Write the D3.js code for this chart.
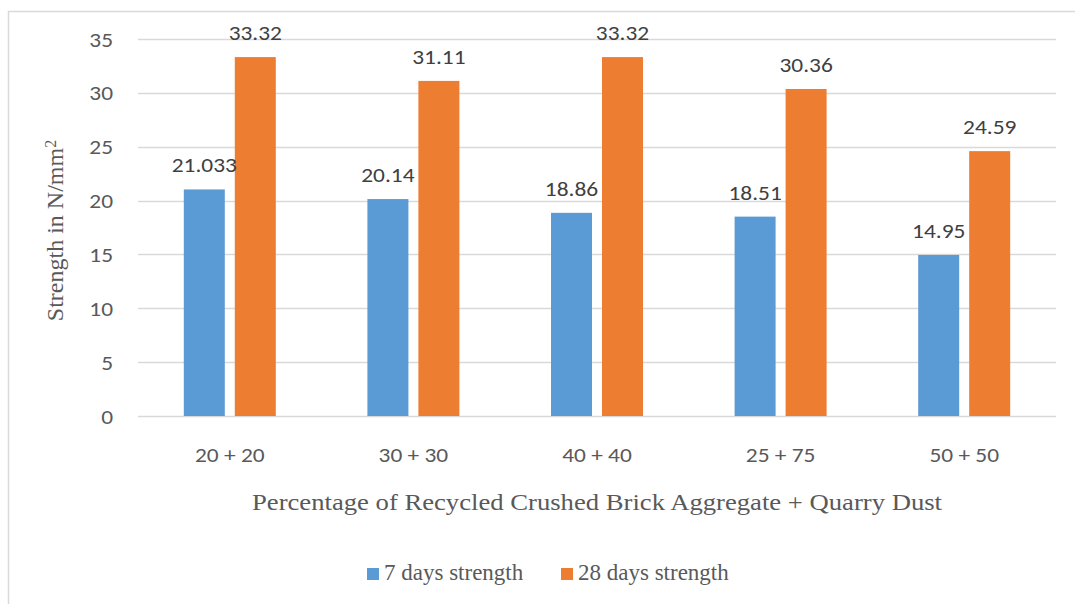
<!DOCTYPE html>
<html>
<head>
<meta charset="utf-8">
<script src="https://cdn.jsdelivr.net/npm/d3@7"></script>
<style>
  html, body { margin: 0; padding: 0; background: #fff; }
  svg { display: block; }
</style>
</head>
<body>
<svg id="chart" width="1075" height="604"></svg>
<script>
// Compressive strength of mixes by replacement percentage
const categories = ["20 + 20", "30 + 30", "40 + 40", "25 + 75", "50 + 50"];
const seriesNames = ["7 days strength", "28 days strength"];
const strength7 = [21.033, 20.14, 18.86, 18.51, 14.95];
const strength28 = [33.32, 31.11, 33.32, 30.36, 24.59];
const yTicks = [0, 5, 10, 15, 20, 25, 30, 35];
const colors = ["#5B9BD5", "#ED7D31"];

const svg = d3.select("#chart");
const W = 1075, H = 604;
const sansFont = "Carlito, Lato, 'Liberation Sans', sans-serif";
const serifFont = "'Liberation Serif', 'DejaVu Serif', serif";
const textColor = "#595959";
const stretch = 1.17; // horizontal widening of the numeric labels

// chart frame
svg.append("rect")
  .attr("x", 8.5).attr("y", 11.5)
  .attr("width", W + 10).attr("height", H + 10)
  .attr("fill", "#fff").attr("stroke", "#d9d9d9").attr("stroke-width", 1.5);

const plot = { left: 138, right: 1056, top: 39, bottom: 416 };

const x = d3.scaleBand().domain(categories)
  .range([plot.left, plot.right]).paddingInner(0).paddingOuter(0);
const sub = d3.scaleBand().domain(seriesNames)
  .range([0, 92]).paddingInner(0.196);
const y = d3.scaleLinear().domain([0, 35]).range([plot.bottom, plot.top]);

// horizontal gridlines
svg.append("g").selectAll("line").data(yTicks).join("line")
  .attr("x1", plot.left).attr("x2", plot.right)
  .attr("y1", d => Math.round(y(d)) + 0.5).attr("y2", d => Math.round(y(d)) + 0.5)
  .attr("stroke", "#d9d9d9").attr("stroke-width", 1.3);

// y axis labels
const yAxis = d3.axisLeft(y).tickValues(yTicks).tickSize(0).tickPadding(0);
const gy = svg.append("g").attr("transform", `translate(${plot.left - 25},0)`).call(yAxis);
gy.select(".domain").remove();
gy.selectAll("text")
  .attr("fill", textColor).style("font-family", sansFont).style("font-size", "20px")
  .attr("dy", "0.35em")
  .attr("transform", `scale(${stretch},1)`);

// x axis labels
const xAxis = d3.axisBottom(x).tickSize(0).tickPadding(0);
const gx = svg.append("g").attr("transform", `translate(0,462)`).call(xAxis);
gx.select(".domain").remove();
gx.selectAll("text")
  .attr("fill", textColor).style("font-family", sansFont).style("font-size", "20px")
  .attr("y", 0).attr("dy", 0)
  .attr("transform", `scale(${stretch},1)`);

// bars
const rows = categories.map((c, i) => ({ cat: c, vals: [strength7[i], strength28[i]] }));
const groups = svg.append("g").selectAll("g").data(rows).join("g")
  .attr("transform", d => `translate(${x(d.cat) + x.bandwidth() / 2 - 46},0)`);

groups.selectAll("rect").data(d => d.vals.map((v, k) => ({ v, k }))).join("rect")
  .attr("x", d => sub(seriesNames[d.k]))
  .attr("width", sub.bandwidth())
  .attr("y", d => y(d.v))
  .attr("height", d => y(0) - y(d.v))
  .attr("fill", d => colors[d.k]);

// value labels
groups.selectAll("text").data(d => d.vals.map((v, k) => ({ v, k }))).join("text")
  .attr("transform", d =>
    `translate(${sub(seriesNames[d.k]) + sub.bandwidth() / 2},${y(d.v) - 17}) scale(${stretch},1)`)
  .attr("text-anchor", "middle")
  .attr("fill", "#404040")
  .style("font-family", sansFont).style("font-size", "20px")
  .text(d => String(d.v));

// y axis title
const yTitle = svg.append("text")
  .attr("transform", `translate(63,${(plot.top + plot.bottom) / 2 + 3}) rotate(-90)`)
  .attr("text-anchor", "middle")
  .attr("fill", textColor)
  .style("font-family", serifFont).style("font-size", "24px");
yTitle.append("tspan").text("Strength in N/mm");
yTitle.append("tspan").attr("dy", "-0.45em").style("font-size", "16px").text("2");

// x axis title
svg.append("text")
  .attr("x", 597).attr("y", 510)
  .attr("text-anchor", "middle")
  .attr("textLength", 690).attr("lengthAdjust", "spacingAndGlyphs")
  .attr("fill", textColor)
  .style("font-family", serifFont).style("font-size", "24px")
  .text("Percentage of Recycled Crushed Brick Aggregate + Quarry Dust");

// legend
const legendItems = [
  { name: seriesNames[0], color: colors[0], x: 367 },
  { name: seriesNames[1], color: colors[1], x: 561 }
];
const lg = svg.append("g").selectAll("g").data(legendItems).join("g")
  .attr("transform", d => `translate(${d.x},568)`);
lg.append("rect").attr("width", 12).attr("height", 12).attr("fill", d => d.color);
lg.append("text")
  .attr("x", 17).attr("y", 12)
  .attr("fill", textColor)
  .style("font-family", serifFont).style("font-size", "23px")
  .text(d => d.name);
</script>
</body>
</html>
